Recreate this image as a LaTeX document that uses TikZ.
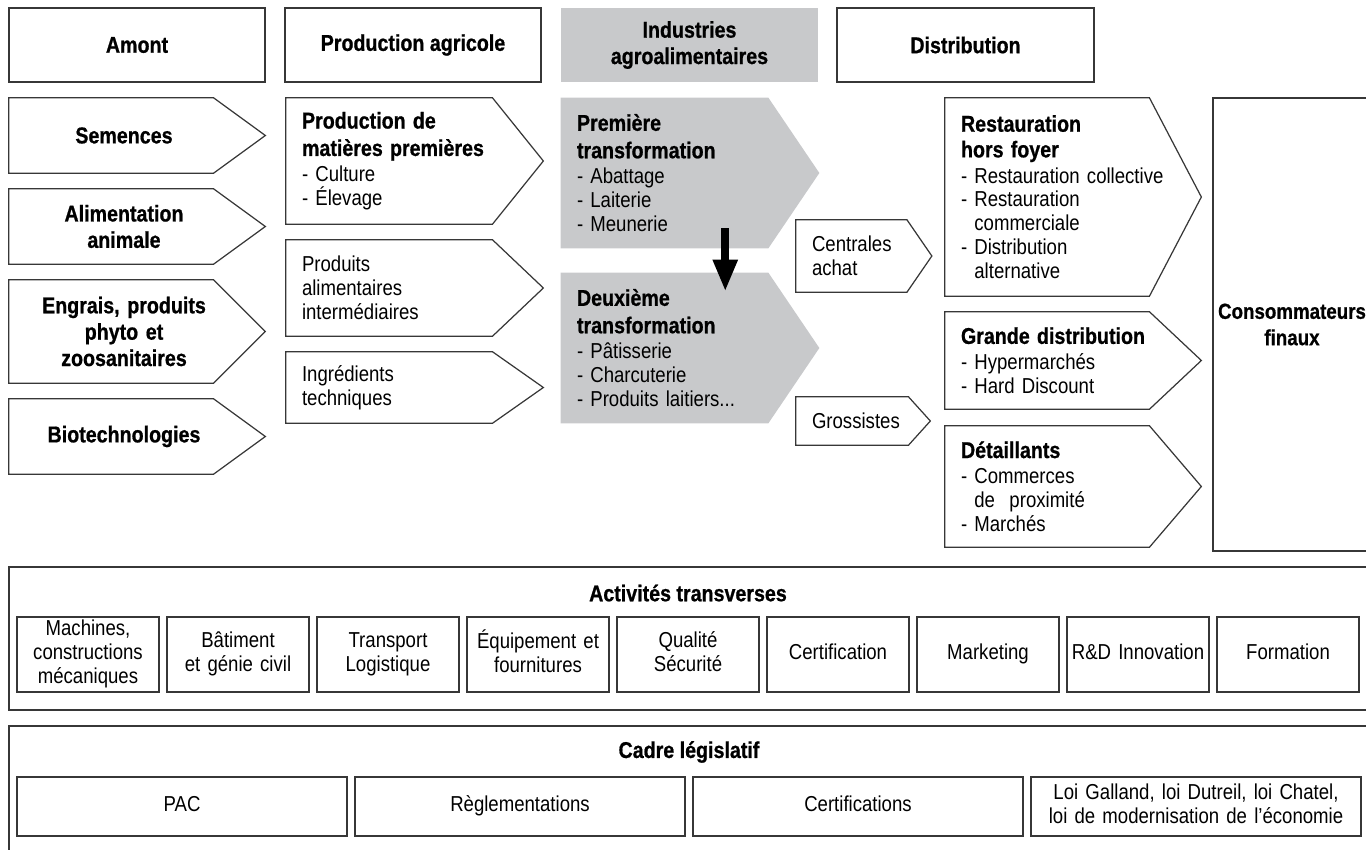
\documentclass[tikz,border=0pt]{standalone}
\usepackage{fontspec}
\setmainfont{Liberation Sans}[FakeStretch=0.86, BoldFeatures={FakeBold=0.8}]
\usepackage{xcolor}
\usepackage{tikz}
\usetikzlibrary{arrows.meta,backgrounds}

\definecolor{iaagray}{RGB}{200,201,203}
\definecolor{linegray}{RGB}{55,55,55}

\newcommand{\hdfont}{\fontsize{13}{15}\selectfont\bfseries}
\newcommand{\txfont}{\fontsize{12.3}{13.6}\selectfont\hyphenpenalty=10000}
\newcommand{\ttl}[1]{{\hdfont #1}}
\newcommand{\chev}[3][]{\path[#1] (#2.north west) -- ([xshift=-#3]#2.north east) -- ([xshift=#3]#2.east) -- ([xshift=-#3]#2.south east) -- (#2.south west) -- cycle;}

\tikzset{
  hbox/.style={draw=linegray, line width=0.7pt, minimum width=5.12cm, minimum height=1.48cm, align=center, font=\hdfont},
  chevC/.style={minimum height=#1, text width=4.04cm, inner xsep=0.28cm, inner ysep=0pt, align=center, font=\hdfont},
  chevL/.style={minimum height=#1, inner xsep=0.32cm, inner ysep=0pt, align=left, font=\txfont},
  chevline/.style={draw=linegray, line width=0.7pt},
  chevfill/.style={fill=iaagray},
  actbox/.style={draw=linegray, line width=0.7pt, minimum height=1.5cm, text width=2.7cm, inner xsep=0.07cm, inner ysep=0pt, align=center, font=\txfont},
  lawbox/.style={draw=linegray, line width=0.7pt, minimum height=1.18cm, text width=6.4cm, inner xsep=0.1cm, inner ysep=0pt, align=center, font=\txfont},
  frame/.style={draw=linegray, line width=0.7pt, inner sep=0pt}
}

\begin{document}
\begin{tikzpicture}
  \useasboundingbox (0,0) rectangle (27.32,-17);
  \clip (0,0) rectangle (27.32,-17);

  % header
  \node[hbox] (amont) at (2.74,-0.9) {Amont};
  \node[hbox] (prodagri) at (8.26,-0.9) {Production agricole};
  \node[hbox, draw=none, fill=iaagray, minimum width=5.14cm] (iaa) at (13.79,-0.9) {Industries\\agroalimentaires};
  \node[hbox, minimum width=5.14cm] (distrib) at (19.31,-0.9) {Distribution};

  % amont
  \node[chevC=1.5cm] (sem) at (2.48,-2.71) {Semences};
  \node[chevC=1.5cm] (alim) at (2.48,-4.53) {Alimentation\\animale};
  \node[chevC=2.06cm] (engr) at (2.48,-6.63) {Engrais, produits\\phyto et\\zoosanitaires};
  \node[chevC=1.5cm] (bio) at (2.48,-8.73) {Biotechnologies};

  % production agricole
  \node[chevL=2.52cm, text width=3.99cm] (prodmp) at (8.035,-3.22) {\ttl{Production de}\\[2pt]\ttl{matières premières}\\[1pt]- Culture\\- Élevage};
  \node[chevL=1.92cm, text width=3.99cm] (pai) at (8.035,-5.76) {Produits\\alimentaires\\intermédiaires};
  \node[chevL=1.42cm, text width=3.99cm] (ingr) at (8.035,-7.75) {Ingrédients\\techniques};

  % industries
  \node[chevL=3cm, text width=4.01cm] (prem) at (13.545,-3.46) {\ttl{Première}\\[2pt]\ttl{transformation}\\[1pt]- Abattage\\- Laiterie\\- Meunerie};
  \node[chevL=3cm, text width=4.01cm] (deux) at (13.545,-6.96) {\ttl{Deuxième}\\[2pt]\ttl{transformation}\\[1pt]- Pâtisserie\\- Charcuterie\\- Produits~laitiers...};
  \node[chevL=1.44cm, text width=1.82cm] (centr) at (17.15,-5.12) {Centrales\\achat};
  \node[chevL=0.96cm, text width=1.82cm] (gross) at (17.15,-8.42) {Grossistes};

  % distribution
  \node[chevL=3.96cm, text width=3.96cm] (resto) at (21.2,-3.94) {\ttl{Restauration}\\[1pt]\ttl{hors foyer}\\[1pt]\mbox{- Restauration collective}\\- Restauration\\\phantom{-} commerciale\\- Distribution\\\phantom{-} alternative};
  \node[chevL=1.94cm, text width=3.96cm] (grande) at (21.2,-7.21) {\ttl{Grande~distribution}\\[1pt]- Hypermarchés\\- Hard~Discount};
  \node[chevL=2.42cm, text width=3.96cm] (detail) at (21.2,-9.73) {\ttl{Détaillants}\\[1pt]- Commerces\\\phantom{-} de~~proximité\\- Marchés};
  \node[frame, minimum width=3.16cm, minimum height=9.06cm, align=center, font=\fontsize{12.4}{15}\selectfont\bfseries] (conso) at (25.84,-6.49) {Consommateurs\\finaux};

  % |
  \draw[line width=0.16cm, -{Triangle[length=0.64cm,width=0.46cm]}] ([xshift=0.96cm,yshift=0.4cm]prem.south) -- ([xshift=0.96cm,yshift=-0.38cm]deux.north);

  % transverses
  \node[frame, minimum width=27.16cm, minimum height=2.86cm] (transv) at (13.76,-12.77) {};
  \node[font=\hdfont] (transvttl) at (13.76,-11.86) {Activités transverses};
  \foreach \txt [count=\i] in {{Machines,\\constructions\\mécaniques}, {Bâtiment\\et génie civil}, {Transport\\Logistique}, {Équipement et\\fournitures}, {Qualité\\Sécurité}, Certification, Marketing, {R\&D~Innovation}, Formation}
    \node[actbox] (act\i) at ({1.76+3*(\i-1)},-13.09) {\strut\txt\strut\endgraf\vspace*{-5pt}};

  % cadre
  \node[frame, minimum width=27.16cm, minimum height=2.88cm] (cadre) at (13.76,-15.96) {};
  \node[font=\hdfont] (cadrettl) at (13.78,-15.04) {Cadre législatif};
  \foreach \txt [count=\i] in {PAC, Règlementations, Certifications, {Loi Galland, loi Dutreil, loi Chatel,\\loi de modernisation de l’économie}}
    \node[lawbox] (law\i) at ({3.64+6.76*(\i-1)},-16.13) {\strut\txt\strut\endgraf\vspace*{-3pt}};

  % chevrons
  \begin{scope}[on background layer]
    \chev[chevline]{sem}{0.52cm}
    \chev[chevline]{alim}{0.52cm}
    \chev[chevline]{engr}{0.52cm}
    \chev[chevline]{bio}{0.52cm}
    \chev[chevline]{prodmp}{0.51cm}
    \chev[chevline]{pai}{0.51cm}
    \chev[chevline]{ingr}{0.51cm}
    \chev[chevfill]{prem}{0.51cm}
    \chev[chevfill]{deux}{0.51cm}
    \chev[chevline]{centr}{0.25cm}
    \chev[chevline]{gross}{0.22cm}
    \chev[chevline]{resto}{0.52cm}
    \chev[chevline]{grande}{0.52cm}
    \chev[chevline]{detail}{0.52cm}
  \end{scope}
\end{tikzpicture}
\end{document}
